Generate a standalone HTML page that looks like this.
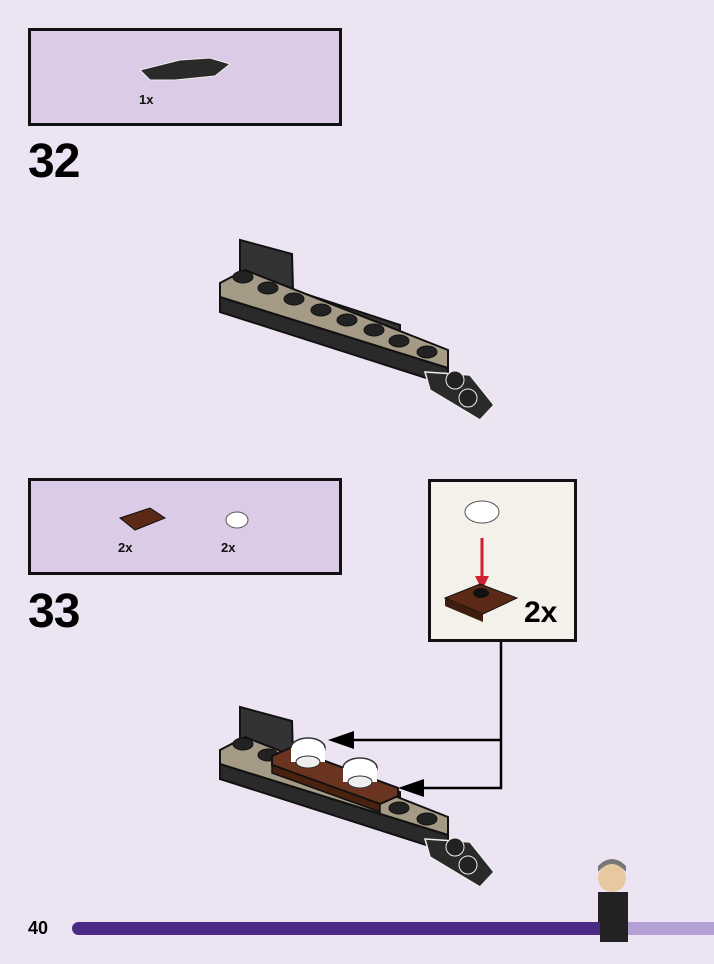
<!DOCTYPE html>
<html><head><meta charset="utf-8"><style>
html,body{margin:0;padding:0;background:#ece4f2;}
body{width:714px;height:964px;position:relative;overflow:hidden;font-family:"Liberation Sans",sans-serif;}
.box{position:absolute;background:#dccbe6;border:3px solid #111;box-sizing:border-box;}
.num{position:absolute;font-weight:bold;font-size:48px;color:#000;letter-spacing:-1px;}
.lbl{position:absolute;font-size:13px;font-weight:bold;color:#111;}
</style></head><body>
<div class="box" style="left:28px;top:28px;width:314px;height:98px;"></div>
<div class="lbl" style="left:139px;top:92px;">1x</div>
<div class="num" style="left:28px;top:134px;">32</div>
<div class="box" style="left:28px;top:478px;width:314px;height:97px;"></div>
<div class="lbl" style="left:118px;top:540px;">2x</div>
<div class="lbl" style="left:221px;top:540px;">2x</div>
<div class="num" style="left:28px;top:584px;">33</div>
<div style="position:absolute;left:428px;top:479px;width:149px;height:163px;box-sizing:border-box;border:3px solid #111;background:#f3f1ea;"></div>
<div style="position:absolute;left:524px;top:596px;font-size:30px;font-weight:bold;">2x</div>
<div style="position:absolute;left:28px;top:918px;font-size:18px;font-weight:bold;">40</div>
<div style="position:absolute;left:72px;top:922px;width:540px;height:13px;background:#4b2a85;border-radius:7px;"></div>
<div style="position:absolute;left:600px;top:922px;width:114px;height:13px;background:#b4a0d4;"></div>
<svg width="714" height="964" style="position:absolute;left:0;top:0" xmlns="http://www.w3.org/2000/svg">
<defs>
<g id="model">
 <polygon points="240,240 292,254 293,290 240,276" fill="#333" stroke="#111" stroke-width="2"/>
 <polygon points="293,290 400,325 400,345 293,310" fill="#333" stroke="#111" stroke-width="2"/>
 <polygon points="220,297 448,368 448,385 220,312" fill="#2a2a2a" stroke="#111" stroke-width="2"/>
 <polygon points="425,372 470,375 494,405 480,420 430,390" fill="#2a2a2a" stroke="#eee" stroke-width="1.5"/>
 <circle cx="455" cy="380" r="9" fill="#222" stroke="#eee"/>
 <circle cx="468" cy="398" r="9" fill="#222" stroke="#eee"/>
 <polygon points="220,283 245,270 448,350 448,368 220,297" fill="#a59a86" stroke="#111" stroke-width="2"/>
 <g fill="#222" stroke="#111">
 <ellipse cx="243" cy="277" rx="10" ry="6"/><ellipse cx="268" cy="288" rx="10" ry="6"/>
 <ellipse cx="294" cy="299" rx="10" ry="6"/><ellipse cx="321" cy="310" rx="10" ry="6"/>
 <ellipse cx="347" cy="320" rx="10" ry="6"/><ellipse cx="374" cy="330" rx="10" ry="6"/>
 <ellipse cx="399" cy="341" rx="10" ry="6"/><ellipse cx="427" cy="352" rx="10" ry="6"/>
 </g>
</g>
</defs>
<use href="#model"/>
<use href="#model" transform="translate(0,467)"/>
<!-- step 33 additions -->
<polygon points="272,756 290,748 398,788 398,796 380,804 272,765" fill="#6a3420" stroke="#111" stroke-width="2"/>
<polygon points="272,765 380,804 380,812 272,773" fill="#4a200f" stroke="#111" stroke-width="1.5"/>
<ellipse cx="308" cy="748" rx="17" ry="10" fill="#fff" stroke="#333" stroke-width="1.5"/>
<rect x="291" y="748" width="34" height="14" fill="#fff"/>
<ellipse cx="308" cy="762" rx="12" ry="6" fill="#eee" stroke="#333"/>
<ellipse cx="360" cy="768" rx="17" ry="10" fill="#fff" stroke="#333" stroke-width="1.5"/>
<rect x="343" y="768" width="34" height="14" fill="#fff"/>
<ellipse cx="360" cy="782" rx="12" ry="6" fill="#eee" stroke="#333"/>
<!-- parts box icons -->
<polygon points="140,70 180,60 210,58 230,64 215,76 175,80 150,80" fill="#2a2a2a" stroke="#eee"/>
<polygon points="120,518 150,508 165,518 135,530" fill="#5a2a16" stroke="#111"/>
<ellipse cx="237" cy="520" rx="11" ry="8" fill="#fff" stroke="#555"/>
<!-- callout -->
<ellipse cx="482" cy="512" rx="17" ry="11" fill="#fff" stroke="#555"/>
<line x1="482" y1="538" x2="482" y2="578" stroke="#d02030" stroke-width="3"/>
<polygon points="475,576 489,576 482,590" fill="#d02030"/>
<polygon points="445,598 480,584 517,598 483,614" fill="#5a2a16" stroke="#111"/>
<polygon points="445,598 483,614 483,622 445,606" fill="#3e1c0f"/>
<ellipse cx="481" cy="593" rx="8" ry="5" fill="#111"/>
<!-- connectors -->
<polyline points="501,642 501,788 420,788" fill="none" stroke="#000" stroke-width="2.5"/>
<polyline points="501,740 350,740" fill="none" stroke="#000" stroke-width="2.5"/>
<polygon points="398,788 424,779 424,797" fill="#000"/>
<polygon points="328,740 354,731 354,749" fill="#000"/>
<!-- minifig -->
<circle cx="612" cy="878" r="14" fill="#e8c8a0"/>
<path d="M598,872 q14,-16 28,0 l0,-6 q-14,-14 -28,0z" fill="#777"/>
<rect x="598" y="892" width="30" height="30" fill="#222"/>
<rect x="600" y="920" width="28" height="22" fill="#222"/>
</svg>
</body></html>
